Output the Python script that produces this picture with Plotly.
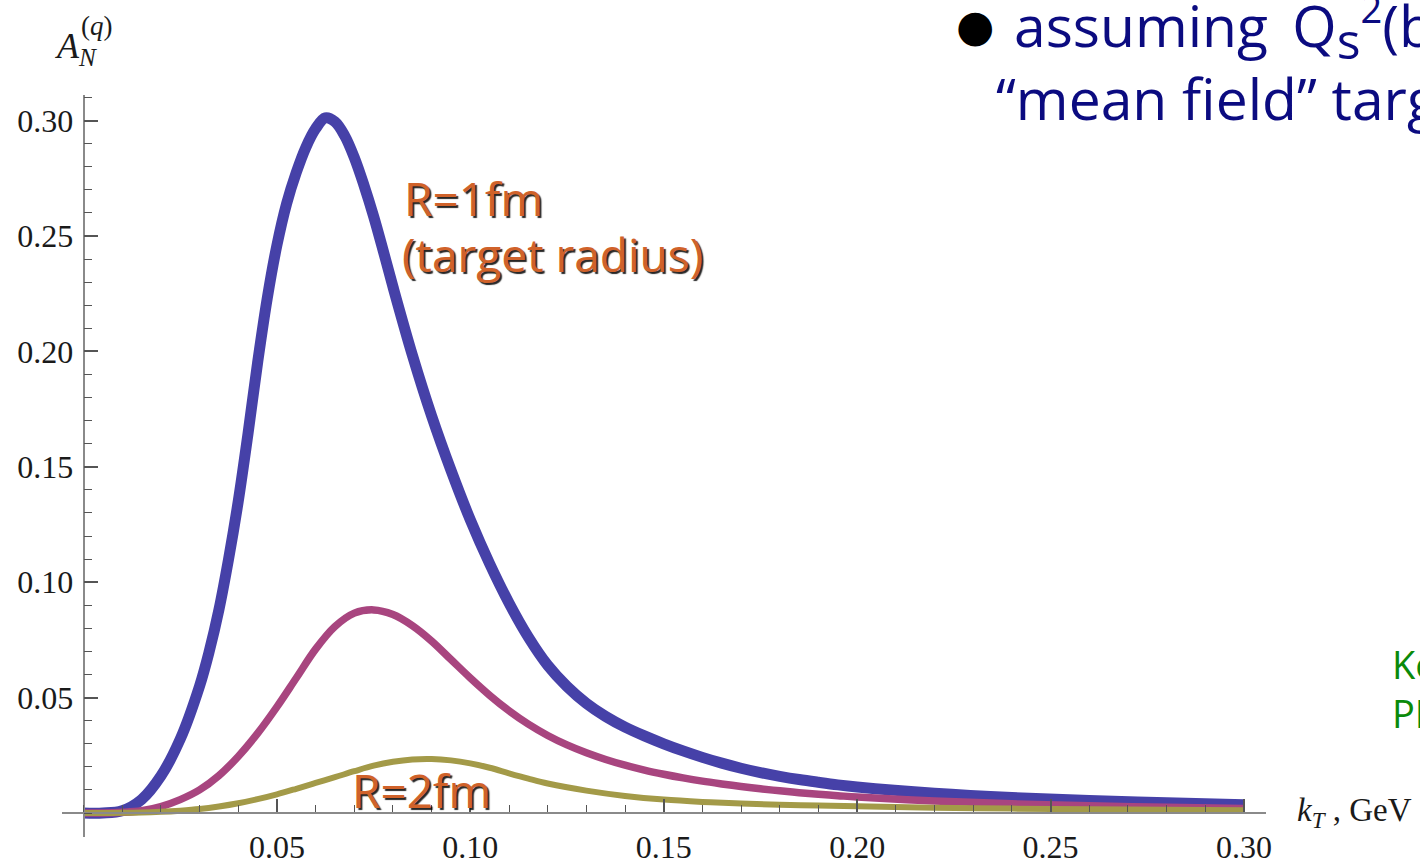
import plotly.graph_objects as go

# ---------------- data ----------------
KT_R1 = [0.000, 0.005, 0.010, 0.015, 0.020, 0.025, 0.030, 0.0325, 0.035, 0.0375,
         0.040, 0.0425, 0.045, 0.0475, 0.050, 0.0525, 0.055, 0.0575, 0.060, 0.0625,
         0.065, 0.0675, 0.070, 0.0725, 0.075, 0.0775, 0.080, 0.085, 0.090, 0.095,
         0.100, 0.105, 0.110, 0.115, 0.120, 0.125, 0.130, 0.135, 0.140, 0.145,
         0.150, 0.155, 0.160, 0.165, 0.170, 0.175, 0.180, 0.185, 0.190, 0.195,
         0.200, 0.220, 0.240, 0.260, 0.280, 0.300]
AN_R1 = [0.0000, 0.0000, 0.0010, 0.0058, 0.0160, 0.0320, 0.0550, 0.0700, 0.0880, 0.1100,
         0.1350, 0.1640, 0.1950, 0.2230, 0.2460, 0.2640, 0.2775, 0.2885, 0.2965, 0.3012,
         0.2995, 0.2935, 0.2840, 0.2720, 0.2585, 0.2435, 0.2280, 0.1985, 0.1720, 0.1485,
         0.1270, 0.1080, 0.0910, 0.0762, 0.0640, 0.0548, 0.0475, 0.0418, 0.0372, 0.0334,
         0.0300, 0.0269, 0.0241, 0.0216, 0.0194, 0.0175, 0.0159, 0.0145, 0.0133, 0.0122,
         0.0113, 0.0086, 0.0067, 0.0054, 0.0044, 0.0036]

KT_R15 = [0.000, 0.005, 0.010, 0.015, 0.020, 0.025, 0.030, 0.035, 0.040, 0.045,
          0.050, 0.055, 0.060, 0.065, 0.070, 0.075, 0.080, 0.085, 0.090, 0.095,
          0.100, 0.105, 0.110, 0.115, 0.120, 0.125, 0.130, 0.135, 0.140, 0.145,
          0.150, 0.155, 0.160, 0.165, 0.170, 0.175, 0.180, 0.185, 0.190, 0.195,
          0.200, 0.220, 0.240, 0.260, 0.280, 0.300]
AN_R15 = [0.0000, 0.0000, 0.0003, 0.0010, 0.0028, 0.0058, 0.0100, 0.0162, 0.0245, 0.0345,
          0.0460, 0.0585, 0.0710, 0.0808, 0.0866, 0.0880, 0.0860, 0.0812, 0.0745, 0.0665,
          0.0585, 0.0510, 0.0443, 0.0385, 0.0336, 0.0295, 0.0261, 0.0232, 0.0207, 0.0186,
          0.0168, 0.0152, 0.0138, 0.0126, 0.0115, 0.0105, 0.0096, 0.0088, 0.0081, 0.0075,
          0.0069, 0.0052, 0.0040, 0.0031, 0.0025, 0.0020]

KT_R2 = [0.000, 0.005, 0.010, 0.015, 0.020, 0.025, 0.030, 0.035, 0.040, 0.045,
         0.050, 0.055, 0.060, 0.065, 0.070, 0.075, 0.080, 0.085, 0.090, 0.095,
         0.100, 0.105, 0.110, 0.115, 0.120, 0.130, 0.140, 0.150, 0.160, 0.170,
         0.180, 0.190, 0.200, 0.220, 0.240, 0.260, 0.280, 0.300]
AN_R2 = [0.0000, 0.0000, 0.0001, 0.0002, 0.0005, 0.0010, 0.0017, 0.0028, 0.0042, 0.0060,
         0.0081, 0.0105, 0.0130, 0.0155, 0.0181, 0.0205, 0.0222, 0.0232, 0.0234, 0.0228,
         0.0215, 0.0196, 0.0172, 0.0149, 0.0128, 0.0097, 0.0074, 0.0058, 0.0048, 0.0041,
         0.0036, 0.0032, 0.0029, 0.0023, 0.0019, 0.0016, 0.0014, 0.0012]

SERIES_NAMES = ["R=1fm", "R=1.5fm", "R=2fm"]
SERIES_COLORS = ["#4641a8", "#a8457f", "#a39a48"]
SERIES_WIDTHS = [11, 7.5, 6]

X_TICKS = [0.05, 0.10, 0.15, 0.20, 0.25, 0.30]
X_TICK_TEXT = ["0.05", "0.10", "0.15", "0.20", "0.25", "0.30"]
Y_TICKS = [0.05, 0.10, 0.15, 0.20, 0.25, 0.30]
Y_TICK_TEXT = ["0.05", "0.10", "0.15", "0.20", "0.25", "0.30"]

X_RANGE = [-0.00556, 0.3057]
Y_RANGE = [-0.0104, 0.3111]

# ---------------- layout helpers ----------------
W, H = 1420, 862
ML, MR, MT, MB = 62, 154, 95, 25
PW, PH = W - ML - MR, H - MT - MB


def px(xp):
    return (xp - ML) / PW


def py(yp):
    return (H - MB - yp) / PH


fig = go.Figure()
for name, xs, ys, col, w in zip(SERIES_NAMES, [KT_R1, KT_R15, KT_R2], [AN_R1, AN_R15, AN_R2],
                                SERIES_COLORS, SERIES_WIDTHS):
    fig.add_trace(go.Scatter(x=xs, y=ys, mode="lines", name=name,
                             line=dict(color=col, width=w, shape="spline", smoothing=1.0),
                             hoverinfo="skip"))

serif = "Liberation Serif"
sans = "Open Sans"
tick_font = dict(family=serif, size=32, color="#1a1a1a")

fig.update_layout(
    width=W, height=H,
    margin=dict(l=ML, r=MR, t=MT, b=MB, autoexpand=False),
    paper_bgcolor="white", plot_bgcolor="white",
    showlegend=False, hovermode=False,
    xaxis=dict(
        range=X_RANGE, anchor="free",
        position=(0 - Y_RANGE[0]) / (Y_RANGE[1] - Y_RANGE[0]),
        showgrid=False, zeroline=False,
        showline=True, linecolor="#8a8a8a", linewidth=1.5,
        tickmode="array", tickvals=X_TICKS, ticktext=X_TICK_TEXT,
        ticks="inside", ticklen=13, tickwidth=1.5, tickcolor="#555555",
        ticklabelstandoff=6,
        minor=dict(tickmode="linear", tick0=0, dtick=0.01, ticks="inside",
                   ticklen=7, tickwidth=1.2, tickcolor="#555555"),
        tickfont=tick_font, automargin=False,
    ),
    yaxis=dict(
        range=Y_RANGE, anchor="free",
        position=(0 - X_RANGE[0]) / (X_RANGE[1] - X_RANGE[0]),
        showgrid=False, zeroline=False,
        showline=True, linecolor="#8a8a8a", linewidth=1.5,
        tickmode="array", tickvals=Y_TICKS, ticktext=Y_TICK_TEXT,
        ticks="inside", ticklen=14, tickwidth=1.5, tickcolor="#555555",
        ticklabelstandoff=3,
        minor=dict(tickmode="linear", tick0=0, dtick=0.01, ticks="inside",
                   ticklen=8, tickwidth=1.2, tickcolor="#555555"),
        tickfont=tick_font, automargin=False,
    ),
)

annotations = []
# axis labels
annotations.append(dict(text="<i>A</i><sub><i>N</i></sub>", xref="paper", yref="paper",
                        x=px(53), y=py(48), xanchor="left", yanchor="middle",
                        showarrow=False, font=dict(family=serif, size=36, color="#1a1a1a")))
annotations.append(dict(text="(<i>q</i>)", xref="paper", yref="paper",
                        x=px(79), y=py(26), xanchor="left", yanchor="middle",
                        showarrow=False, font=dict(family=serif, size=27, color="#1a1a1a")))
annotations.append(dict(text="<i>k</i><sub><i>T</i></sub> , GeV", xref="paper", yref="paper",
                        x=px(1295), y=py(812), xanchor="left", yanchor="middle",
                        showarrow=False, font=dict(family=serif, size=33, color="#1a1a1a")))

# curve labels
orange = "#d0622a"
shadow = "2px 2px 1px rgba(0,0,0,0.85)"
for txt, xx, yy in [("R=1fm", 402, 198), ("(target radius)", 400, 254), ("R=2fm", 350, 790)]:
    annotations.append(dict(text=txt, xref="paper", yref="paper", x=px(xx), y=py(yy),
                            xanchor="left", yanchor="middle", showarrow=False,
                            font=dict(family=sans, size=46, color=orange, shadow=shadow)))

# slide text (cut at the right border)
navy = "#0b0b80"
annotations.append(dict(text="●", xref="paper", yref="paper", x=px(954), y=py(25),
                        xanchor="left", yanchor="middle", showarrow=False,
                        font=dict(family="DejaVu Sans", size=44, color="black")))
annotations.append(dict(
    text="assuming &#8201;Q<sub><span style='font-size:50px'>s</span></sub>"
         "<sup><span style='font-size:38px'>2</span></sup>(b) ~ T(b):",
    xref="paper", yref="paper", x=px(1012), y=py(28), xanchor="left", yanchor="middle",
    showarrow=False, font=dict(family=sans, size=57, color=navy)))
annotations.append(dict(
    text="“mean field” target", xref="paper", yref="paper", x=px(994), y=py(98),
    xanchor="left", yanchor="middle", showarrow=False, font=dict(family=sans, size=57, color=navy)))

green = "#0a8a0a"
annotations.append(dict(text="Kovchegov, Sievert", xref="paper", yref="paper",
                        x=px(1390), y=py(664), xanchor="left", yanchor="middle",
                        showarrow=False, font=dict(family=sans, size=38, color=green)))
annotations.append(dict(text="PRD 86 (2012)", xref="paper", yref="paper",
                        x=px(1390), y=py(713), xanchor="left", yanchor="middle",
                        showarrow=False, font=dict(family=sans, size=38, color=green)))

fig.update_layout(annotations=annotations)

fig.write_html("out.html", config={"displayModeBar": False})
